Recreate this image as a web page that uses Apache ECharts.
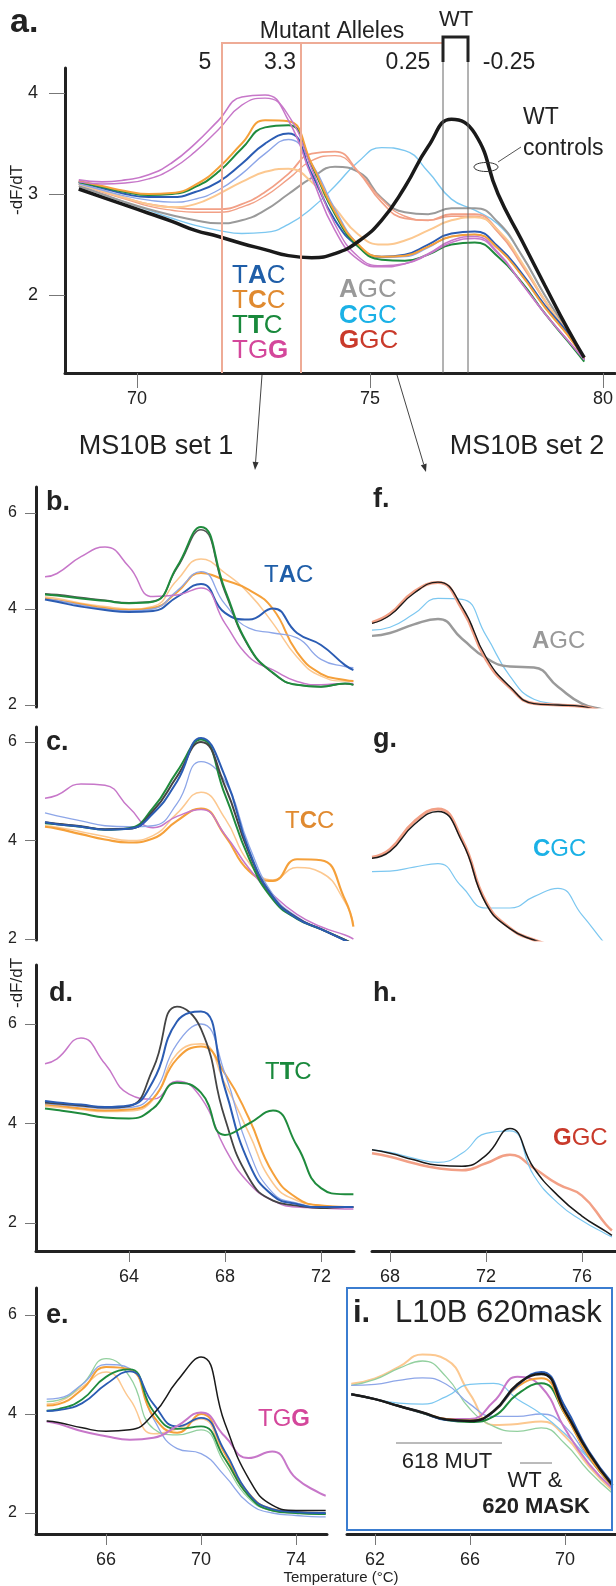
<!DOCTYPE html>
<html>
<head>
<meta charset="utf-8">
<script src="https://cdn.jsdelivr.net/npm/echarts@6/dist/echarts.min.js"></script>
<style>
  html, body { margin: 0; padding: 0; background: #fff; }
  #chart { width: 616px; height: 1586px; }
</style>
</head>
<body>
<div id="chart"></div>
<script>
var FONT = '"Liberation Sans", Arial, Helvetica, sans-serif';

// ---- panel a: MS10B, all alleles (temperature in °C, -dF/dT) ----
var tempA = [68.75, 69.25, 69.75, 70.25, 70.75, 71.25, 71.75, 72.25, 72.75, 73.25, 73.75, 74.25,
  74.75, 75.25, 75.75, 76.25, 76.75, 77.25, 77.75, 78.25, 78.75, 79.25, 79.6];
var aWT  = [3.05, 2.97, 2.89, 2.81, 2.73, 2.64, 2.58, 2.51, 2.45, 2.39, 2.37, 2.41, 2.53, 2.74, 3.07, 3.47, 3.74, 3.60, 3.00, 2.55, 2.10, 1.66, 1.38];
var aTGG = [3.14, 3.12, 3.14, 3.19, 3.31, 3.50, 3.73, 3.96, 3.98, 3.73, 3.17, 2.64, 2.35, 2.28, 2.31, 2.41, 2.54, 2.58, 2.42, 2.12, 1.82, 1.55, 1.36];
var aTGG2 = [3.12, 3.10, 3.11, 3.15, 3.25, 3.42, 3.64, 3.88, 3.95, 3.78, 3.25, 2.70, 2.38, 2.29, 2.31, 2.40, 2.52, 2.56, 2.41, 2.12, 1.82, 1.55, 1.36];
var aTAC = [3.12, 3.06, 3.00, 2.97, 2.97, 3.02, 3.12, 3.30, 3.50, 3.60, 3.20, 2.74, 2.48, 2.38, 2.40, 2.50, 2.61, 2.63, 2.48, 2.22, 1.90, 1.62, 1.36];
var aTACl = [3.10, 3.04, 2.98, 2.94, 2.92, 2.95, 3.04, 3.20, 3.40, 3.54, 3.30, 2.85, 2.50, 2.37, 2.38, 2.47, 2.58, 2.60, 2.46, 2.20, 1.88, 1.60, 1.36];
var aTCC = [3.13, 3.08, 3.03, 3.00, 3.01, 3.09, 3.26, 3.50, 3.73, 3.72, 3.30, 2.82, 2.50, 2.38, 2.39, 2.48, 2.58, 2.60, 2.46, 2.20, 1.88, 1.60, 1.37];
var aTCCl = [3.10, 3.03, 2.96, 2.90, 2.87, 2.90, 3.00, 3.12, 3.22, 3.25, 3.12, 2.86, 2.60, 2.50, 2.54, 2.64, 2.74, 2.77, 2.64, 2.33, 1.95, 1.62, 1.37];
var aTTC = [3.12, 3.07, 3.02, 2.99, 3.00, 3.07, 3.22, 3.45, 3.66, 3.68, 3.28, 2.80, 2.48, 2.35, 2.34, 2.40, 2.50, 2.52, 2.38, 2.13, 1.82, 1.54, 1.34];
var aAGC = [3.08, 3.00, 2.92, 2.85, 2.79, 2.74, 2.71, 2.74, 2.84, 3.00, 3.16, 3.27, 3.22, 2.96, 2.82, 2.80, 2.86, 2.86, 2.72, 2.40, 2.00, 1.64, 1.38];
var aCGC = [3.10, 3.00, 2.92, 2.84, 2.76, 2.69, 2.64, 2.61, 2.62, 2.70, 2.86, 3.08, 3.32, 3.46, 3.43, 3.22, 2.95, 2.84, 2.70, 2.40, 2.00, 1.64, 1.38];
var aGGC = [3.10, 3.03, 2.96, 2.90, 2.87, 2.85, 2.85, 2.90, 3.02, 3.20, 3.40, 3.42, 3.22, 2.92, 2.76, 2.74, 2.80, 2.80, 2.64, 2.32, 1.95, 1.62, 1.37];
var aGGC2 = [3.10, 3.02, 2.95, 2.88, 2.84, 2.82, 2.82, 2.87, 2.98, 3.15, 3.33, 3.38, 3.22, 2.95, 2.78, 2.74, 2.78, 2.78, 2.62, 2.30, 1.94, 1.61, 1.37];

// ---- panels b, c, d: MS10B set 1 ----
var tempBCD = [60.5, 61, 62, 63, 64, 65, 66, 67, 68, 69, 70, 71, 72, 73, 73.35];
var bTGG  = [4.67, 4.74, 5.09, 5.29, 4.88, 4.26, 4.29, 4.44, 3.70, 3.00, 2.73, 2.49, 2.42, 2.45, 2.45];
var bTTC  = [4.30, 4.28, 4.22, 4.17, 4.12, 4.15, 4.88, 5.71, 4.40, 3.22, 2.67, 2.42, 2.38, 2.45, 2.42];
var bWT   = [4.32, 4.30, 4.24, 4.18, 4.13, 4.16, 4.85, 5.65, 4.35, 3.20, 2.66, 2.42, 2.38, 2.44, 2.42];
var bTCCl = [4.25, 4.22, 4.12, 4.05, 4.00, 4.05, 4.60, 5.04, 4.75, 4.32, 3.70, 3.00, 2.60, 2.50, 2.50];
var bTCC  = [4.22, 4.18, 4.10, 4.02, 3.98, 4.02, 4.35, 4.75, 4.60, 4.40, 4.00, 3.10, 2.65, 2.52, 2.50];
var bTACl = [4.20, 4.18, 4.08, 4.00, 3.96, 4.00, 4.38, 4.78, 4.10, 3.60, 3.50, 3.40, 2.95, 2.80, 2.78];
var bTAC  = [4.20, 4.15, 4.05, 3.98, 3.94, 3.96, 4.25, 4.52, 3.92, 3.78, 4.01, 3.50, 3.25, 2.83, 2.73];

var cTGG  = [4.86, 4.92, 5.15, 5.12, 4.67, 4.26, 4.49, 4.63, 4.12, 3.43, 2.90, 2.50, 2.25, 2.08, 2.00];
var cTTC  = [4.35, 4.33, 4.28, 4.22, 4.25, 4.66, 5.40, 6.05, 4.93, 3.64, 2.80, 2.41, 2.20, 1.98, 1.90];
var cWT   = [4.37, 4.34, 4.29, 4.23, 4.24, 4.60, 5.30, 6.00, 5.10, 3.75, 2.85, 2.43, 2.20, 1.98, 1.90];
var cTAC  = [4.37, 4.33, 4.28, 4.22, 4.24, 4.55, 5.20, 6.08, 5.30, 3.80, 2.85, 2.42, 2.20, 1.97, 1.88];
var cTACl = [4.56, 4.50, 4.40, 4.30, 4.28, 4.30, 4.75, 5.60, 5.20, 3.90, 2.90, 2.45, 2.20, 1.98, 1.90];
var cTCCl = [4.30, 4.27, 4.18, 4.08, 4.00, 4.10, 4.55, 4.98, 4.45, 3.55, 3.20, 3.45, 3.35, 2.75, 2.30];
var cTCC  = [4.28, 4.24, 4.13, 4.02, 3.96, 4.04, 4.40, 4.65, 4.10, 3.38, 3.18, 3.62, 3.60, 2.80, 2.25];

var dTGG  = [5.20, 5.30, 5.72, 5.20, 4.59, 4.49, 4.85, 4.52, 3.50, 2.80, 2.45, 2.32, 2.30, 2.28, 2.28];
var dWT   = [4.42, 4.40, 4.36, 4.32, 4.35, 5.10, 6.35, 5.90, 4.10, 2.90, 2.45, 2.35, 2.30, 2.32, 2.32];
var dTAC  = [4.45, 4.42, 4.38, 4.33, 4.36, 4.85, 6.05, 6.25, 4.70, 3.20, 2.55, 2.38, 2.32, 2.32, 2.32];
var dTACl = [4.40, 4.38, 4.34, 4.30, 4.32, 4.60, 5.60, 6.00, 5.00, 3.45, 2.60, 2.40, 2.32, 2.32, 2.32];
var dTCC  = [4.38, 4.36, 4.30, 4.26, 4.28, 4.50, 5.30, 5.55, 5.00, 4.10, 3.00, 2.50, 2.35, 2.32, 2.32];
var dTCCl = [4.35, 4.33, 4.28, 4.24, 4.25, 4.48, 5.40, 5.60, 4.80, 3.80, 2.80, 2.45, 2.35, 2.32, 2.32];
var dTTC  = [4.30, 4.27, 4.20, 4.12, 4.10, 4.30, 4.82, 4.62, 3.77, 4.00, 4.26, 3.55, 2.70, 2.58, 2.58];

// ---- panel e: TGG set ----
var tempE = [63.5, 64, 65, 66, 67, 68, 69, 70, 71, 72, 73, 74, 75, 75.25];
var eWT   = [3.86, 3.83, 3.72, 3.65, 3.68, 4.00, 4.67, 5.15, 3.82, 2.70, 2.16, 2.05, 2.05, 2.05];
var eTGG  = [3.85, 3.80, 3.65, 3.55, 3.48, 3.52, 3.76, 4.03, 3.55, 3.11, 3.24, 2.70, 2.40, 2.35];
var eTTCl = [4.25, 4.28, 4.60, 5.12, 4.75, 3.70, 3.58, 3.68, 3.00, 2.30, 2.05, 2.00, 1.98, 1.98];
var eTCCl = [4.20, 4.24, 4.55, 4.85, 4.30, 3.60, 3.70, 3.90, 3.10, 2.35, 2.05, 2.00, 1.98, 1.98];
var eTCC  = [4.17, 4.20, 4.50, 4.95, 4.90, 3.95, 3.62, 4.00, 3.20, 2.40, 2.08, 2.02, 2.00, 2.00];
var eTACl = [4.30, 4.32, 4.60, 5.00, 4.92, 3.90, 3.30, 3.20, 2.75, 2.20, 2.00, 1.95, 1.92, 1.92];
var eTTC  = [4.07, 4.10, 4.30, 4.75, 4.90, 4.05, 3.70, 3.75, 3.10, 2.35, 2.05, 2.00, 1.98, 1.98];
var eTAC  = [4.06, 4.08, 4.22, 4.60, 4.86, 4.20, 3.75, 3.92, 3.25, 2.40, 2.08, 2.02, 2.00, 2.00];

// ---- panels f, g, h: MS10B set 2 ----
var tempFGH = [67.25, 68, 69, 70, 71, 72, 73, 74, 75, 76, 77, 77.25];
var fWT  = [3.70, 3.87, 4.33, 4.56, 4.05, 3.00, 2.38, 2.03, 2.00, 1.97, 1.83, 1.80];
var fGGC = [3.72, 3.90, 4.36, 4.55, 4.00, 2.95, 2.36, 2.03, 2.00, 1.97, 1.84, 1.80];
var fCGC = [3.56, 3.62, 3.90, 4.22, 4.20, 3.45, 2.60, 2.12, 2.02, 1.98, 1.90, 1.85];
var fAGC = [3.44, 3.50, 3.68, 3.79, 3.38, 2.98, 2.80, 2.78, 2.38, 2.03, 1.88, 1.80];
var gWT  = [3.64, 3.78, 4.32, 4.59, 3.98, 2.72, 2.21, 1.98, 1.84, 1.73, 1.62, 1.60];
var gGGC = [3.66, 3.82, 4.38, 4.64, 4.02, 2.75, 2.22, 1.98, 1.84, 1.73, 1.62, 1.60];
var gCGC = [3.37, 3.38, 3.46, 3.53, 3.06, 2.63, 2.63, 2.86, 3.03, 2.49, 1.88, 1.75];
var hWT  = [3.47, 3.40, 3.27, 3.16, 3.14, 3.36, 3.90, 3.10, 2.55, 2.14, 1.83, 1.75];
var hCGC = [3.47, 3.42, 3.30, 3.22, 3.40, 3.80, 3.85, 2.95, 2.40, 2.05, 1.78, 1.72];
var hGGC = [3.40, 3.33, 3.20, 3.10, 3.06, 3.20, 3.37, 3.10, 2.78, 2.55, 1.97, 1.85];

// ---- panel i: L10B 620mask ----
var tempI = [61, 62, 63, 64, 65, 66, 67, 68, 69, 70, 71, 72];
var iWT   = [4.40, 4.30, 4.16, 4.03, 3.89, 3.86, 4.06, 4.60, 4.81, 4.06, 3.22, 2.56];
var iTCCl = [4.61, 4.72, 4.95, 5.20, 5.10, 4.40, 3.78, 3.80, 3.85, 3.55, 2.95, 2.45];
var iTTCl = [4.58, 4.70, 4.92, 5.07, 4.75, 4.10, 3.75, 3.65, 3.72, 3.40, 2.85, 2.40];
var iTACl = [4.58, 4.60, 4.68, 4.73, 4.60, 4.20, 3.95, 3.95, 4.00, 3.75, 3.10, 2.55];
var iCGC  = [4.40, 4.30, 4.22, 4.20, 4.35, 4.60, 4.62, 4.30, 4.00, 3.60, 3.10, 2.60];
var iTGG  = [4.40, 4.30, 4.16, 4.02, 3.90, 3.90, 4.25, 4.75, 4.55, 3.70, 3.00, 2.50];
var iTTC  = [4.40, 4.30, 4.16, 4.02, 3.88, 3.84, 3.95, 4.40, 4.62, 4.00, 3.15, 2.55];
var iTCC  = [4.40, 4.30, 4.16, 4.03, 3.90, 3.87, 4.05, 4.55, 4.72, 4.00, 3.15, 2.55];
var iTAC  = [4.40, 4.30, 4.16, 4.03, 3.88, 3.86, 4.05, 4.58, 4.85, 4.15, 3.25, 2.60];

// tick labels
var ticksAx = [70, 75, 80];
var ticksAy = [2, 3, 4];
var ticksY = [2, 4, 6];
var ticksDx = [64, 68, 72];
var ticksEx = [66, 70, 74];
var ticksHx = [68, 72, 76];
var ticksIx = [62, 66, 70];

var C = {
  wt: '#1a1a1a', tac: '#2b5cb3', tacL: '#8da6e8', tcc: '#f5a03a', tccL: '#fcc890',
  ttc: '#1f8b3d', ttcL: '#93d09f', tgg: '#c777c9', agc: '#9a9a9a', cgc: '#7cc7f0', ggc: '#f2a086'
};

var dom = document.getElementById('chart');
var myChart = echarts.init(dom, null, { renderer: 'canvas' });

var grids = [
  { left: 65, top: 68, width: 550, height: 305 },   // a
  { left: 36, top: 487, width: 318, height: 220 },  // b
  { left: 36, top: 727, width: 318, height: 213 },  // c
  { left: 36, top: 965, width: 318, height: 286 },  // d
  { left: 36, top: 1288, width: 291, height: 246 }, // e
  { left: 372, top: 487, width: 244, height: 220 }, // f
  { left: 372, top: 727, width: 244, height: 213 }, // g
  { left: 372, top: 965, width: 244, height: 286 }, // h
  { left: 347, top: 1288, width: 269, height: 246 } // i
];

function xAx(g, min, max, ticks, show, fs) {
  return {
    gridIndex: g, type: 'value', min: min, max: max, show: show,
    axisLine: { show: true, onZero: false, lineStyle: { color: '#222', width: 3 } },
    axisTick: { show: true, customValues: ticks, length: g === 0 ? 15 : 11, lineStyle: { color: '#777', width: 1 } },
    axisLabel: { show: true, customValues: ticks, margin: 17, color: '#222', fontSize: fs || 18, fontFamily: FONT },
    splitLine: { show: false }
  };
}
function yAx(g, min, max, ticks, show, fs, margin) {
  return {
    gridIndex: g, type: 'value', min: min, max: max, show: show,
    axisLine: { show: true, onZero: false, lineStyle: { color: '#222', width: 3 } },
    axisTick: { show: true, customValues: ticks, length: g === 0 ? 16 : 11, lineStyle: { color: '#777', width: 1 } },
    axisLabel: { show: true, customValues: ticks, margin: margin, color: '#222', fontSize: fs, fontFamily: FONT },
    splitLine: { show: false }
  };
}

var xAxes = [
  xAx(0, 68.455, 80.26, ticksAx, true, 18),
  xAx(1, 60.125, 73.375, ticksDx, false),
  xAx(2, 60.125, 73.375, ticksDx, false),
  xAx(3, 60.125, 73.375, ticksDx, true),
  xAx(4, 63.05, 75.305, ticksEx, true),
  xAx(5, 67.25, 77.42, ticksHx, false),
  xAx(6, 67.25, 77.42, ticksHx, false),
  xAx(7, 67.25, 77.42, ticksHx, true),
  xAx(8, 60.82, 72.15, ticksIx, true)
];
var yAxes = [
  yAx(0, 1.228, 4.248, ticksAy, true, 18, 27),
  yAx(1, 1.958, 6.542, ticksY, true, 16, 19),
  yAx(2, 1.98, 6.305, ticksY, true, 16, 19),
  yAx(3, 1.437, 7.186, ticksY, true, 16, 19),
  yAx(4, 1.576, 6.545, ticksY, true, 16, 19),
  yAx(5, 1.958, 6.542, ticksY, false, 16, 19),
  yAx(6, 1.98, 6.305, ticksY, false, 16, 19),
  yAx(7, 1.437, 7.186, ticksY, false, 16, 19),
  yAx(8, 1.576, 6.545, ticksY, false, 16, 19)
];

var series = [];
function curve(g, T, v, color, w) {
  series.push({
    type: 'line', xAxisIndex: g, yAxisIndex: g,
    data: T.map(function (t, i) { return [t, v[i]]; }),
    smooth: 0.5, symbol: 'none', silent: true,
    lineStyle: { color: color, width: w || 1.5 }
  });
}

// a
curve(0, tempA, aCGC, C.cgc, 1.4);
curve(0, tempA, aAGC, C.agc, 2);
curve(0, tempA, aGGC2, C.ggc, 1.4);
curve(0, tempA, aGGC, C.ggc, 1.8);
curve(0, tempA, aTCCl, C.tccL, 2);
curve(0, tempA, aTACl, C.tacL, 1.4);
curve(0, tempA, aTAC, C.tac, 2);
curve(0, tempA, aTTC, C.ttc, 2);
curve(0, tempA, aTCC, C.tcc, 2);
curve(0, tempA, aTGG2, C.tgg, 1.4);
curve(0, tempA, aTGG, C.tgg, 1.6);
curve(0, tempA, aWT, C.wt, 3.5);
// b
curve(1, tempBCD, bTCCl, C.tccL, 1.5);
curve(1, tempBCD, bTCC, C.tcc, 2);
curve(1, tempBCD, bTACl, C.tacL, 1.3);
curve(1, tempBCD, bTAC, C.tac, 2);
curve(1, tempBCD, bTGG, C.tgg, 1.5);
curve(1, tempBCD, bWT, '#555', 1.5);
curve(1, tempBCD, bTTC, C.ttc, 2);
// c
curve(2, tempBCD, cTCCl, C.tccL, 1.5);
curve(2, tempBCD, cTCC, C.tcc, 2.2);
curve(2, tempBCD, cTGG, C.tgg, 1.5);
curve(2, tempBCD, cTACl, C.tacL, 1.3);
curve(2, tempBCD, cTTC, C.ttc, 2);
curve(2, tempBCD, cWT, '#444', 2);
curve(2, tempBCD, cTAC, C.tac, 2);
// d
curve(3, tempBCD, dTGG, C.tgg, 1.5);
curve(3, tempBCD, dTCCl, C.tccL, 1.6);
curve(3, tempBCD, dTCC, C.tcc, 2);
curve(3, tempBCD, dTACl, C.tacL, 1.3);
curve(3, tempBCD, dWT, '#444', 1.8);
curve(3, tempBCD, dTAC, C.tac, 2);
curve(3, tempBCD, dTTC, C.ttc, 2);
// e
curve(4, tempE, eTCCl, C.tccL, 1.5);
curve(4, tempE, eTTCl, C.ttcL, 1.3);
curve(4, tempE, eTACl, C.tacL, 1.3);
curve(4, tempE, eTCC, C.tcc, 2);
curve(4, tempE, eTTC, C.ttc, 1.8);
curve(4, tempE, eTAC, C.tac, 1.8);
curve(4, tempE, eTGG, C.tgg, 2);
curve(4, tempE, eWT, C.wt, 1.5);
// f
curve(5, tempFGH, fCGC, C.cgc, 1.2);
curve(5, tempFGH, fAGC, C.agc, 2.5);
curve(5, tempFGH, fGGC, C.ggc, 3);
curve(5, tempFGH, fWT, C.wt, 1.3);
// g
curve(6, tempFGH, gCGC, C.cgc, 1.2);
curve(6, tempFGH, gGGC, C.ggc, 3);
curve(6, tempFGH, gWT, C.wt, 1.5);
// h
curve(7, tempFGH, hGGC, C.ggc, 2.5);
curve(7, tempFGH, hCGC, C.cgc, 1.2);
curve(7, tempFGH, hWT, C.wt, 1.5);
// i
curve(8, tempI, iTCCl, C.tccL, 2);
curve(8, tempI, iTTCl, C.ttcL, 1.3);
curve(8, tempI, iTACl, C.tacL, 1.3);
curve(8, tempI, iCGC, C.cgc, 1.2);
curve(8, tempI, iTGG, C.tgg, 2);
curve(8, tempI, iTTC, C.ttc, 2);
curve(8, tempI, iTCC, C.tcc, 2);
curve(8, tempI, iTAC, C.tac, 2);
curve(8, tempI, iWT, C.wt, 2.5);

// ---- annotations ----
function txt(x, y, s, size, opts) {
  opts = opts || {};
  return {
    type: 'text', x: x, y: y, rotation: opts.rot || 0, z: 10,
    style: {
      text: s, fill: opts.color || '#222',
      font: (opts.bold ? 'bold ' : '') + size + 'px ' + FONT,
      textAlign: opts.align || 'left', textVerticalAlign: 'middle',
      align: opts.align || 'left', verticalAlign: 'middle'
    }
  };
}
function codon(x, y, s, boldIdx, color, size) {
  var t = s.split('').map(function (ch, i) { return '{' + (i === boldIdx ? 'b' : 'n') + '|' + ch + '}'; }).join('');
  return {
    type: 'text', x: x, y: y, z: 10,
    style: {
      text: t, textVerticalAlign: 'middle', verticalAlign: 'middle',
      rich: {
        n: { fill: color, fontSize: size, fontFamily: FONT },
        b: { fill: color, fontSize: size, fontFamily: FONT, fontWeight: 'bold' }
      }
    }
  };
}
function seg(x1, y1, x2, y2, color, w) {
  return { type: 'line', z: 5, shape: { x1: x1, y1: y1, x2: x2, y2: y2 }, style: { stroke: color, lineWidth: w } };
}

var SALMON = '#eeab96';
var graphics = [
  txt(10, 23, 'a.', 34, { bold: true }),
  txt(332, 32, 'Mutant Alleles', 23, { align: 'center' }),
  txt(456, 20, 'WT', 22, { align: 'center' }),
  txt(205, 63, '5', 23, { align: 'center' }),
  txt(280, 63, '3.3', 23, { align: 'center' }),
  txt(408, 63, '0.25', 23, { align: 'center' }),
  txt(509, 63, '-0.25', 23, { align: 'center' }),
  { type: 'polyline', z: 5, shape: { points: [[222, 373], [222, 43], [443, 43]] }, style: { stroke: SALMON, lineWidth: 2, fill: null } },
  seg(301, 43, 301, 373, SALMON, 2),
  { type: 'polyline', z: 5, shape: { points: [[443, 62], [443, 37], [468, 37], [468, 62]] }, style: { stroke: '#222', lineWidth: 3, fill: null } },
  seg(443, 62, 443, 373, '#666', 1),
  seg(468, 62, 468, 373, '#666', 1),
  txt(523, 118, 'WT', 23),
  txt(523, 149, 'controls', 23),
  { type: 'ellipse', z: 11, shape: { cx: 486, cy: 167, rx: 12, ry: 4.5 }, style: { stroke: '#333', lineWidth: 1, fill: null } },
  seg(498, 162, 521, 147, '#555', 1),
  txt(17, 190, '-dF/dT', 17, { rot: Math.PI / 2, align: 'center' }),
  codon(232, 276, 'TAC', 1, '#1f5ea8', 26),
  codon(232, 301, 'TCC', 1, '#e08a30', 26),
  codon(232, 326, 'TTC', 1, '#19893c', 26),
  codon(232, 351, 'TGG', 2, '#d4479b', 26),
  codon(339, 290, 'AGC', 0, '#999999', 26),
  codon(339, 316, 'CGC', 0, '#1bb1e6', 26),
  codon(339, 341, 'GGC', 0, '#c93a2b', 26),
  seg(262, 375, 255.6, 462, '#444', 1),
  { type: 'polygon', z: 5, shape: { points: [[255, 470], [258.6, 462.2], [252.6, 461.8]] }, style: { fill: '#333' } },
  seg(397, 375, 423.7, 464.3, '#444', 1),
  { type: 'polygon', z: 5, shape: { points: [[426, 472], [426.6, 463.5], [420.8, 465.2]] }, style: { fill: '#333' } },
  txt(156, 447, 'MS10B set 1', 27, { align: 'center' }),
  txt(527, 447, 'MS10B set 2', 27, { align: 'center' }),

  txt(46, 503, 'b.', 27, { bold: true }),
  txt(46, 743, 'c.', 27, { bold: true }),
  txt(49, 994, 'd.', 27, { bold: true }),
  txt(46, 1316, 'e.', 27, { bold: true }),
  txt(373, 500, 'f.', 27, { bold: true }),
  txt(373, 740, 'g.', 27, { bold: true }),
  txt(373, 994, 'h.', 27, { bold: true }),
  txt(17, 983, '-dF/dT', 17, { rot: Math.PI / 2, align: 'center' }),

  codon(264, 575, 'TAC', 1, '#1f5ea8', 24),
  codon(285, 821, 'TCC', 1, '#e08a30', 24),
  codon(265, 1072, 'TTC', 1, '#19893c', 24),
  codon(258, 1419, 'TGG', 2, '#d4479b', 24),
  codon(532, 641, 'AGC', 0, '#999999', 24),
  codon(533, 849, 'CGC', 0, '#1bb1e6', 24),
  codon(553, 1138, 'GGC', 0, '#c93a2b', 24),

  { type: 'rect', z: 9, shape: { x: 347, y: 1288, width: 265, height: 242 }, style: { stroke: '#3b7dd0', lineWidth: 2, fill: null } },
  txt(353, 1313, 'i.', 31, { bold: true }),
  txt(395, 1313, 'L10B 620mask', 31),
  seg(396, 1443, 502, 1443, '#777', 1),
  txt(447, 1462, '618 MUT', 22, { align: 'center' }),
  seg(520, 1463, 552, 1463, '#777', 1),
  txt(535, 1481, 'WT &', 22, { align: 'center' }),
  txt(536, 1507, '620 MASK', 22, { align: 'center', bold: true }),
  txt(341, 1578, 'Temperature (\u00B0C)', 15, { align: 'center' })
];

var option = {
  animation: false,
  backgroundColor: '#fff',
  grid: grids,
  xAxis: xAxes,
  yAxis: yAxes,
  series: series,
  graphic: { elements: graphics }
};

myChart.setOption(option);
window.addEventListener('resize', myChart.resize);
</script>
</body>
</html>
